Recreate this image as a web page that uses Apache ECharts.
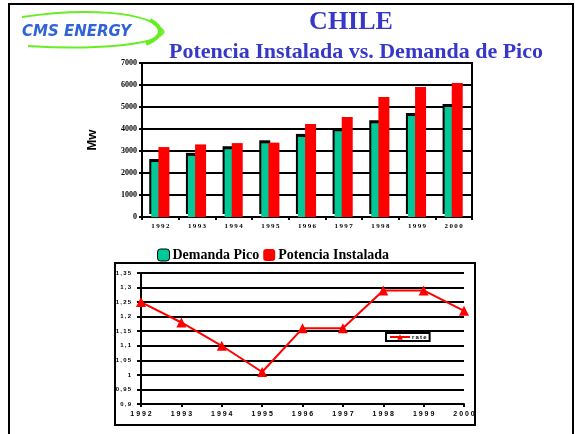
<!DOCTYPE html>
<html>
<head>
<meta charset="utf-8">
<script src="https://cdn.jsdelivr.net/npm/echarts@6/dist/echarts.min.js"></script>
<style>
  html, body { margin: 0; padding: 0; background: #fff; }
  #chart { width: 583px; height: 434px; }
</style>
</head>
<body>
<div id="chart"></div>
<script>
// datos
const years = ['1992', '1993', '1994', '1995', '1996', '1997', '1998', '1999', '2000']
const demandaPico = [2500, 2780, 3080, 3350, 3640, 3900, 4260, 4590, 5000]
const potenciaInstalada = [3180, 3300, 3360, 3380, 4230, 4550, 5450, 5910, 6090]
const rate = [1.25, 1.18, 1.10, 1.01, 1.16, 1.16, 1.29, 1.29, 1.22]

const serif = 'Liberation Serif'
const sans = 'Liberation Sans'
const spaced = (v) => v.split('').join('\u2009')

let chartInstance = echarts.init(document.getElementById('chart'))

const option = {
  animation: false,
  backgroundColor: '#fff',
  title: [
    {
      text: 'CHILE',
      left: 346, top: 4, textAlign: 'center',
      textStyle: { fontFamily: serif, fontWeight: 'bold', fontSize: 26, color: '#3838C8' }
    },
    {
      text: 'Potencia Instalada vs. Demanda de Pico',
      left: 351, top: 36, textAlign: 'center',
      textStyle: { fontFamily: serif, fontWeight: 'bold', fontSize: 22, color: '#3838C8' }
    }
  ],
  graphic: [
    // marco de la pagina
    { type: 'rect', shape: { x: 9, y: 4, width: 564, height: 440 }, style: { fill: 'none', stroke: '#000', lineWidth: 2 }, silent: true },
    // recuadro del grafico inferior
    { type: 'rect', shape: { x: 115, y: 263, width: 360, height: 162 }, style: { fill: 'none', stroke: '#000', lineWidth: 2 }, silent: true },
    // logo
    { type: 'bezierCurve', shape: { x1: 22, y1: 17, cpx1: 80, cpy1: 8, cpx2: 150, cpy2: 10, x2: 164, y2: 32 }, style: { fill: 'none', stroke: '#66EE22', lineWidth: 2 }, silent: true },
    { type: 'bezierCurve', shape: { x1: 164, y1: 32, cpx1: 155, cpy1: 46, cpx2: 90, cpy2: 50, x2: 28, y2: 46 }, style: { fill: 'none', stroke: '#66EE22', lineWidth: 2 }, silent: true },
    { type: 'bezierCurve', shape: { x1: 150, y1: 20, cpx1: 164, cpy1: 28, cpx2: 164, cpy2: 36, x2: 146, y2: 44 }, style: { fill: 'none', stroke: '#66EE22', lineWidth: 4 }, silent: true },
    {
      type: 'text', left: 22, top: 25, silent: true,
      style: { text: 'CMS ENERGY', font: 'italic bold 15px "DejaVu Sans"', fill: '#2F63D8' }
    },
    // titulo del eje y, girado
    {
      type: 'group', x: 92, y: 140, rotation: Math.PI / 2, silent: true,
      children: [
        { type: 'text', x: 0, y: 0, style: { text: 'Mw', font: 'bold 13px ' + sans, fill: '#000', align: 'center', verticalAlign: 'middle' } }
      ]
    }
  ],
  legend: [
    {
      left: 152, top: 243,
      itemWidth: 12, itemHeight: 12, itemGap: 4,
      data: [
        { name: 'Demanda Pico', itemStyle: { borderColor: '#000', borderWidth: 1 } },
        { name: 'Potencia Instalada' }
      ],
      textStyle: { fontFamily: serif, fontWeight: 'bold', fontSize: 14, color: '#000', padding: [0, 0, 0, -2] }
    },
    {
      left: 386, top: 333,
      padding: [1, 3],
      borderColor: '#000', borderWidth: 2,
      itemWidth: 20, itemHeight: 7, itemGap: 2,
      data: ['rate'],
      textStyle: { fontFamily: sans, fontWeight: 'bold', fontSize: 6, color: '#000', padding: [0, 0, 0, -3] },
      formatter: (n) => spaced(n)
    }
  ],
  grid: [
    { left: 142, right: 111, top: 63, bottom: 217, show: true, borderColor: '#000', borderWidth: 2, backgroundColor: 'transparent' },
    { left: 141, right: 119, top: 273, bottom: 30 }
  ],
  xAxis: [
    {
      gridIndex: 0, type: 'category', data: years,
      axisLine: { lineStyle: { color: '#000', width: 2 } },
      axisTick: { show: true, length: 3, lineStyle: { color: '#000', width: 2 } },
      axisLabel: { fontFamily: serif, fontWeight: 'bold', fontSize: 7, color: '#000', margin: 6, formatter: spaced }
    },
    {
      gridIndex: 1, type: 'category', data: years, boundaryGap: false,
      axisLine: { lineStyle: { color: '#000', width: 2 } },
      axisTick: { show: true, length: 3, inside: false, lineStyle: { color: '#000', width: 2 } },
      axisLabel: { fontFamily: sans, fontWeight: 'bold', fontSize: 7, color: '#000', margin: 7, formatter: (v) => v.split('').join(' ') }
    }
  ],
  yAxis: [
    {
      gridIndex: 0, type: 'value', min: 0, max: 7000, interval: 1000,
      axisLine: { show: true, lineStyle: { color: '#000', width: 2 } },
      axisTick: { show: true, length: 3, lineStyle: { color: '#000', width: 2 } },
      splitLine: { lineStyle: { color: '#000', width: 2 } },
      axisLabel: { fontFamily: serif, fontWeight: 'bold', fontSize: 8, color: '#000', margin: 5, formatter: (v) => String(v) }
    },
    {
      gridIndex: 1, type: 'value', min: 0.9, max: 1.35, interval: 0.05,
      axisLine: { show: true, lineStyle: { color: '#000', width: 2 } },
      axisTick: { show: true, length: 4, lineStyle: { color: '#000', width: 2 } },
      splitLine: { lineStyle: { color: '#000', width: 2 } },
      axisLabel: {
        fontFamily: sans, fontWeight: 'bold', fontSize: 6, color: '#000', margin: 10,
        formatter: (v) => spaced(String(parseFloat(v.toFixed(2))).replace('.', ','))
      }
    }
  ],
  series: [
    {
      name: 'Demanda Pico', type: 'bar', xAxisIndex: 0, yAxisIndex: 0,
      data: demandaPico, barWidth: 11, barGap: '-35%',
      itemStyle: { color: '#00C896', shadowColor: '#000', shadowBlur: 0, shadowOffsetX: -2, shadowOffsetY: -3 },
      z: 2
    },
    {
      name: 'Potencia Instalada', type: 'bar', xAxisIndex: 0, yAxisIndex: 0,
      data: potenciaInstalada, barWidth: 11,
      itemStyle: { color: '#FF0000' },
      z: 3
    },
    {
      name: 'rate', type: 'line', xAxisIndex: 1, yAxisIndex: 1,
      data: rate,
      symbol: 'triangle', symbolSize: 10,
      lineStyle: { color: '#FF0000', width: 2 },
      itemStyle: { color: '#FF0000' }
    }
  ]
}

chartInstance.setOption(option)
</script>
</body>
</html>
